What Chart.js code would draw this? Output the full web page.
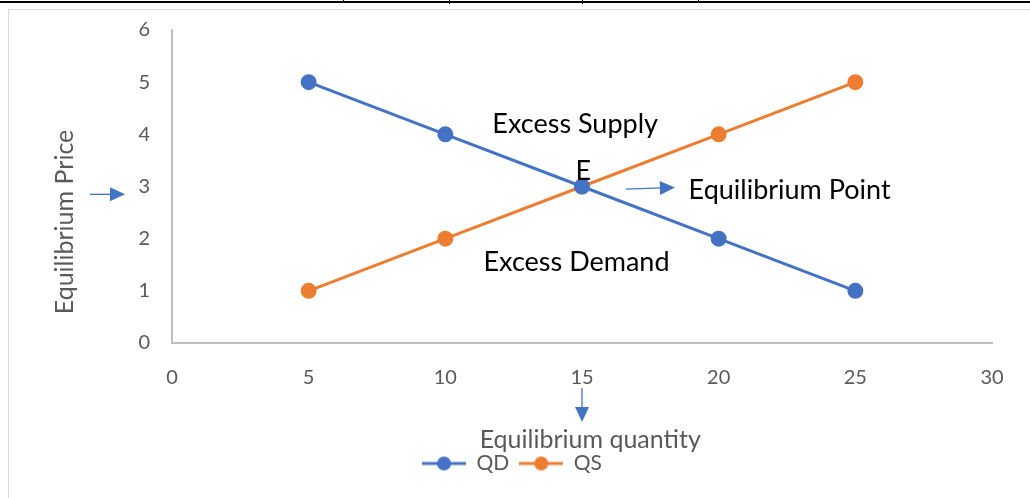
<!DOCTYPE html>
<html>
<head>
<meta charset="utf-8">
<script src="https://cdn.jsdelivr.net/npm/chart.js@4"></script>
<style>
  body { margin: 0; background: #fff; }
  #wrap { position: relative; width: 1030px; height: 498px; }
  #frame { position: absolute; left: 8px; top: 9px; right: -2px; bottom: -2px; border: 1px solid #d9d9d9; }
  #topline { position: absolute; left: 0; top: 1px; width: 1030px; height: 2px; background: #000; }
  #cells { position: absolute; left: 343px; top: 0; width: 354px; height: 3px; border-left: 1px solid #000; border-right: 1px solid #000; }
  .cell { position: absolute; top: 0; width: 1px; height: 4px; background: #000; }
  #myChart { position: absolute; left: 0; top: 0; }
</style>
</head>
<body>
<div id="wrap">
  <div id="topline"></div>
  <div id="cells"></div>
  <div class="cell" style="left:449px"></div>
  <div class="cell" style="left:582px"></div>
  <div id="frame"></div>
  <canvas id="myChart" width="1030" height="498"></canvas>
</div>
<script>
// quantities along the x-axis
var quantity = [5, 10, 15, 20, 25];
// prices for demand and supply
var qd = [5, 4, 3, 2, 1];
var qs = [1, 2, 3, 4, 5];

var blue = "#4472C4";
var orange = "#ED7D31";
var grey = "#595959";
var font = "Lato";

function points(ys) {
  return quantity.map(function(q, i) { return { x: q, y: ys[i] }; });
}

// legend marker: line with a dot, like excel
function marker(color) {
  var c = document.createElement("canvas");
  c.width = 44; c.height = 16;
  var g = c.getContext("2d");
  g.strokeStyle = color; g.lineWidth = 3;
  g.beginPath(); g.moveTo(0, 8); g.lineTo(44, 8); g.stroke();
  g.fillStyle = color;
  g.beginPath(); g.arc(22, 8, 7, 0, Math.PI * 2); g.fill();
  return c;
}

function arrow(g, x1, y1, x2, y2) {
  var a = Math.atan2(y2 - y1, x2 - x1);
  g.save();
  g.strokeStyle = blue; g.fillStyle = blue; g.lineWidth = 1.3;
  g.beginPath(); g.moveTo(x1, y1);
  g.lineTo(x2 - 12 * Math.cos(a), y2 - 12 * Math.sin(a)); g.stroke();
  g.translate(x2, y2); g.rotate(a);
  g.beginPath(); g.moveTo(0, 0); g.lineTo(-15, -7); g.lineTo(-15, 7); g.closePath(); g.fill();
  g.restore();
}

// excel centres the legend a bit to the right of ours
var legendShift = {
  id: "legendShift",
  afterLayout: function(chart) {
    chart.legend.left += 16;
    chart.legend.right += 16;
  }
};

var notes = {
  id: "notes",
  afterDatasetsDraw: function(chart) {
    var g = chart.ctx, x = chart.scales.x, y = chart.scales.y;
    g.save();
    g.textBaseline = "middle";
    g.textAlign = "center";

    // axis titles
    g.fillStyle = grey;
    g.font = "25px " + font;
    g.fillText("Equilibrium quantity", x.getPixelForValue(15.3), y.bottom + 97);
    g.save();
    g.translate(65, y.getPixelForValue(2.32));
    g.rotate(-Math.PI / 2);
    g.fillText("Equilibrium Price", 0, 0);
    g.restore();

    // notes inside the plot
    g.fillStyle = "#000";
    g.font = "27px " + font;
    g.fillText("Excess Supply", x.getPixelForValue(14.75), y.getPixelForValue(4.2));
    g.fillText("Excess Demand", x.getPixelForValue(14.8), y.getPixelForValue(1.55));
    g.fillText("E", x.getPixelForValue(15.05), y.getPixelForValue(3.3));
    g.textAlign = "left";
    g.fillText("Equilibrium Point", x.getPixelForValue(18.9), y.getPixelForValue(2.93));
    arrow(g, x.getPixelForValue(16.6), y.getPixelForValue(2.95), x.getPixelForValue(18.4), y.getPixelForValue(2.98));
    arrow(g, x.left - 82, y.getPixelForValue(2.85), x.left - 47, y.getPixelForValue(2.85));
    arrow(g, x.getPixelForValue(15), y.bottom + 45, x.getPixelForValue(15), y.bottom + 79);
    g.restore();
  }
};

var ctx = document.getElementById("myChart");
var myChart = new Chart(ctx, {
  type: "line",
  data: {
    datasets: [
      {
        data: points(qd),
        label: "QD",
        borderColor: blue,
        backgroundColor: blue,
        borderWidth: 3,
        pointRadius: 6.5,
        pointStyle: "circle",
        fill: false
      },
      {
        data: points(qs),
        label: "QS",
        borderColor: orange,
        backgroundColor: orange,
        borderWidth: 3,
        pointRadius: 6.5,
        pointStyle: "circle",
        fill: false
      }
    ]
  },
  options: {
    responsive: false,
    animation: false,
    layout: { padding: { left: 0, right: 38, top: 30, bottom: 14 } },
    plugins: {
      tooltip: { enabled: false },
      legend: {
        position: "bottom",
        labels: {
          usePointStyle: true,
          pointStyleWidth: 44,
          color: grey,
          font: { family: font, size: 21 },
          padding: 10,
          generateLabels: function(chart) {
            return chart.data.datasets.map(function(ds, i) {
              return {
                text: ds.label,
                pointStyle: marker(ds.borderColor),
                fillStyle: ds.borderColor,
                strokeStyle: ds.borderColor,
                fontColor: grey,
                lineWidth: 0,
                datasetIndex: i
              };
            });
          }
        }
      }
    },
    scales: {
      x: {
        type: "linear",
        min: 0,
        max: 30,
        ticks: { stepSize: 5, color: grey, font: { family: font, size: 20 }, padding: 23 },
        grid: { display: false, drawTicks: false },
        border: { color: "#bfbfbf", width: 2 },
        afterFit: function(s) { s.height = 100; }
      },
      y: {
        type: "linear",
        min: 0,
        max: 6,
        ticks: { stepSize: 1, color: grey, font: { family: font, size: 20 }, padding: 22 },
        grid: { display: false, drawTicks: false },
        border: { color: "#bfbfbf", width: 2 },
        afterFit: function(s) {
          s.width = 172;
          // tick padding would otherwise push the plot down
          s.paddingTop = 0;
          s.paddingBottom = 0;
        }
      }
    }
  },
  plugins: [legendShift, notes]
});
</script>
</body>
</html>
